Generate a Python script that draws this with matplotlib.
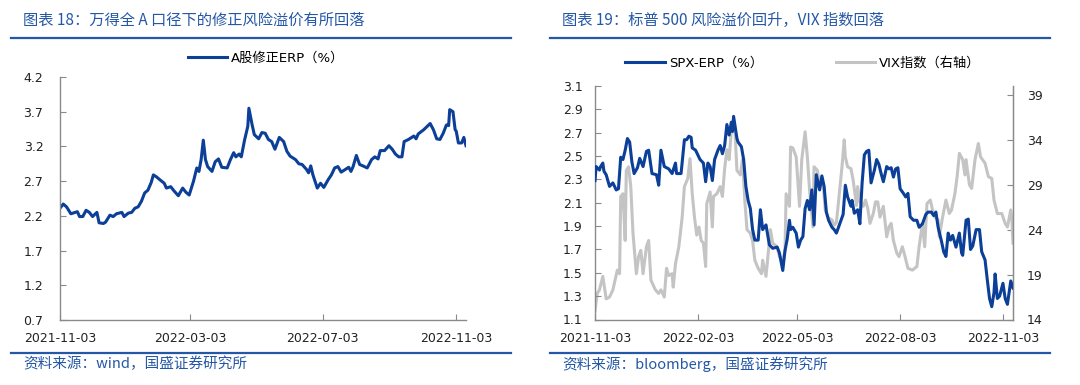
#---------------------------------Start--------------------------------

import numpy as np
import pandas as pd
import matplotlib
matplotlib.use('Agg')
import matplotlib.pyplot as plt
import matplotlib.dates as mdates
from matplotlib.lines import Line2D

plt.rcParams['font.family'] = ['DejaVu Sans', 'Noto Sans CJK SC']
plt.rcParams['axes.unicode_minus'] = False

#-------------------------------Data-----------------------------------

start_date = '2021-11-03'

# Chart 18: A-share adjusted ERP (days since start, value in %)
erp_a_days = [0, 3, 6, 10, 14, 16, 18, 21, 24, 27, 30, 34, 36, 40, 42, 46, 49, 52, 57, 59,
              63, 66, 69, 72, 75, 78, 81, 84, 86, 89, 92, 96, 98, 102, 105, 109, 113, 116, 119,
              123, 126, 128, 130, 132, 134, 136, 140, 143, 146, 149, 154, 157, 160, 162, 165,
              167, 170, 173, 174, 177, 179, 183, 186, 189, 192, 195, 198, 202, 206, 209, 212,
              217, 220, 223, 227, 229, 231, 233, 237, 240, 243, 247, 250, 253, 256, 259, 263,
              266, 268, 270, 273, 276, 279, 283, 287, 290, 293, 295, 299, 303, 306, 309, 312,
              315, 317, 321, 326, 328, 330, 335, 341, 344, 347, 350, 353, 356, 358, 359, 362,
              364, 365, 367, 370, 372, 374]
erp_a = [2.31, 2.37, 2.33, 2.23, 2.25, 2.26, 2.19, 2.19, 2.28, 2.25, 2.19, 2.25, 2.10, 2.09,
         2.11, 2.21, 2.19, 2.23, 2.25, 2.19, 2.24, 2.25, 2.31, 2.33, 2.41, 2.53, 2.57, 2.68,
         2.79, 2.76, 2.72, 2.67, 2.60, 2.62, 2.56, 2.49, 2.60, 2.54, 2.50, 2.70, 2.89, 2.84,
         3.01, 3.29, 3.01, 2.91, 2.84, 2.98, 3.02, 2.90, 2.89, 3.01, 3.11, 3.05, 3.09, 3.05,
         3.29, 3.49, 3.75, 3.51, 3.37, 3.31, 3.40, 3.39, 3.30, 3.27, 3.16, 3.33, 3.27, 3.13,
         3.06, 3.01, 2.95, 2.94, 2.87, 2.82, 2.92, 2.79, 2.60, 2.67, 2.61, 2.72, 2.79, 2.89,
         2.91, 2.83, 2.87, 2.90, 2.84, 2.91, 3.07, 2.94, 2.92, 2.89, 3.01, 3.05, 3.02, 3.14,
         3.14, 3.21, 3.16, 3.09, 3.05, 3.05, 3.27, 3.30, 3.35, 3.31, 3.38, 3.44, 3.53, 3.44,
         3.31, 3.30, 3.39, 3.51, 3.50, 3.73, 3.70, 3.44, 3.42, 3.25, 3.25, 3.33, 3.21]

# Chart 19: S&P 500 ERP (%) and VIX (right axis)
spx_days = [0, 1, 4, 5, 7, 8, 10, 13, 16, 19, 21, 23, 25, 27, 29, 31, 33, 35, 38, 40, 43,
            46, 48, 51, 55, 57, 59, 62, 66, 69, 72, 73, 77, 80, 82, 84, 86, 87, 90, 92, 94,
            97, 99, 101, 103, 105, 107, 110, 112, 114, 116, 118, 120, 122, 123, 124, 127,
            128, 131, 133, 135, 137, 139, 141, 143, 146, 148, 150, 153, 156, 159, 163, 165,
            168, 170, 172, 174, 175, 177, 180, 182, 184, 186, 188, 190, 192, 194, 196, 198,
            201, 203, 205, 207, 209, 212, 214, 216, 219, 222, 224, 226, 229, 230, 232, 235,
            237, 239, 241, 243, 245, 247, 250, 252, 254, 256, 258, 261, 263, 265, 267, 269,
            271, 273, 276, 278, 280, 282, 285, 288, 290, 293, 296, 298, 301, 303, 305, 307,
            310, 312, 314, 316, 318, 320, 323, 326, 328, 329, 332, 334, 336, 338, 341, 344,
            346, 349, 351, 353, 355, 357, 358, 360, 362, 365, 367, 369, 372, 374]
spx_erp = [2.29, 2.41, 2.38, 2.41, 2.44, 2.37, 2.34, 2.24, 2.27, 2.21, 2.22, 2.49, 2.47,
           2.55, 2.65, 2.62, 2.45, 2.35, 2.40, 2.48, 2.41, 2.54, 2.55, 2.35, 2.34, 2.25,
           2.55, 2.41, 2.39, 2.35, 2.44, 2.35, 2.35, 2.64, 2.64, 2.67, 2.66, 2.57, 2.55,
           2.51, 2.47, 2.44, 2.28, 2.44, 2.41, 2.29, 2.47, 2.55, 2.59, 2.52, 2.59, 2.77,
           2.68, 2.79, 2.71, 2.84, 2.65, 2.62, 2.58, 2.47, 2.24, 2.12, 2.05, 1.87, 1.78,
           1.78, 2.04, 1.87, 1.91, 1.74, 1.71, 1.72, 1.67, 1.52, 1.69, 1.79, 1.95, 1.87,
           1.89, 1.84, 1.72, 1.78, 1.81, 2.05, 2.12, 2.04, 2.21, 1.91, 2.34, 2.21, 2.33,
           2.24, 2.02, 1.95, 1.89, 1.87, 1.84, 1.92, 2.00, 2.25, 2.15, 2.07, 2.12, 2.01,
           2.04, 1.92, 2.27, 2.51, 2.54, 2.55, 2.27, 2.38, 2.47, 2.43, 2.35, 2.28, 2.41,
           2.39, 2.40, 2.32, 2.39, 2.40, 2.22, 2.18, 2.15, 2.18, 1.98, 1.95, 1.95, 1.89,
           1.92, 2.00, 2.02, 2.02, 1.99, 2.02, 1.89, 1.77, 1.68, 1.64, 1.84, 1.78, 1.82,
           1.72, 1.84, 1.67, 1.65, 1.95, 1.96, 1.70, 1.73, 1.87, 1.87, 1.68, 1.61, 1.44,
           1.28, 1.21, 1.33, 1.49, 1.28, 1.30, 1.41, 1.28, 1.23, 1.43, 1.37]

vix_days = [0, 2, 4, 7, 10, 13, 16, 20, 22, 23, 25, 27, 28, 30, 32, 34, 37, 39, 41, 43, 46,
            48, 50, 54, 57, 59, 62, 64, 66, 69, 70, 72, 75, 78, 80, 83, 85, 87, 89, 91, 93,
            95, 97, 99, 100, 103, 105, 106, 109, 112, 114, 116, 118, 120, 122, 124, 125, 127,
            130, 132, 134, 136, 139, 141, 143, 146, 149, 150, 153, 155, 157, 159, 163, 165,
            168, 170, 171, 174, 175, 177, 180, 181, 183, 185, 188, 190, 192, 195, 196, 199,
            201, 204, 206, 209, 212, 214, 216, 218, 221, 223, 224, 226, 229, 231, 234, 235,
            237, 240, 242, 244, 246, 249, 251, 253, 255, 258, 261, 263, 265, 267, 270, 272,
            275, 277, 280, 284, 288, 290, 293, 295, 297, 300, 302, 304, 307, 308, 311, 314,
            317, 319, 322, 324, 326, 329, 331, 332, 335, 337, 340, 343, 345, 349, 352, 355,
            357, 360, 364, 367, 369, 372, 373, 374]
vix = [15.0, 16.9, 17.3, 18.8, 16.3, 16.5, 17.3, 19.5, 19.1, 27.7, 28.0, 22.8, 30.6, 31.0,
       28.8, 23.6, 19.1, 21.0, 21.7, 19.1, 22.1, 22.8, 18.4, 17.3, 16.9, 17.3, 16.5, 19.7,
       18.9, 19.1, 17.6, 20.2, 22.1, 25.4, 28.8, 29.7, 31.9, 28.0, 25.4, 23.4, 24.3, 22.8,
       22.5, 19.9, 26.9, 28.2, 24.3, 27.7, 28.0, 28.8, 27.7, 30.8, 32.9, 31.8, 35.1, 35.7,
       35.5, 30.6, 30.1, 31.8, 27.3, 24.0, 23.6, 22.8, 20.6, 19.7, 19.1, 20.6, 18.8, 21.4,
       24.0, 22.5, 22.1, 21.0, 20.6, 21.7, 28.0, 26.6, 33.2, 33.1, 32.1, 30.3, 26.6, 31.8,
       34.9, 32.1, 28.4, 24.3, 31.0, 30.6, 28.8, 29.3, 26.2, 25.3, 25.1, 24.5, 24.8, 27.3,
       31.0, 34.0, 32.1, 31.0, 30.8, 29.5, 26.7, 28.8, 27.1, 26.6, 27.3, 26.4, 24.7, 25.8,
       27.1, 27.1, 25.4, 26.6, 23.2, 24.3, 24.7, 22.8, 21.4, 21.0, 22.1, 21.2, 19.7, 19.5,
       19.9, 22.1, 24.7, 22.1, 26.9, 27.3, 26.2, 25.4, 25.1, 23.2, 25.4, 27.3, 25.8, 26.2,
       28.0, 29.9, 32.5, 31.8, 30.1, 31.8, 29.0, 28.6, 31.8, 33.6, 32.1, 31.4, 29.9, 29.7,
       27.3, 25.8, 25.8, 24.7, 24.3, 26.2, 25.1, 22.5]

left_ticks = ['2021-11-03', '2022-03-03', '2022-07-03', '2022-11-03']
right_ticks = ['2021-11-03', '2022-02-03', '2022-05-03', '2022-08-03', '2022-11-03']

#-------------------------------Styles---------------------------------

blue = '#0b3f98'
gray = '#c4c4c4'
title_blue = '#2457a6'
axis_gray = '#8a8a8a'

def to_dates(days):
    return pd.Timestamp(start_date) + pd.to_timedelta(days, unit='D')

def style_axis(ax, right_spine=False):
    for s in ['top', 'right']:
        ax.spines[s].set_visible(False)
    if right_spine:
        ax.spines['right'].set_visible(True)
    for s in ax.spines.values():
        s.set_color(axis_gray)
        s.set_linewidth(1.0)
    ax.tick_params(direction='in', length=4, color=axis_gray, labelsize=9,
                   labelcolor='#222222')
    ax.xaxis.set_major_formatter(mdates.DateFormatter('%Y-%m-%d'))
    ax.tick_params(axis='x', pad=9)

fig = plt.figure(figsize=(10.8, 3.85), dpi=100)

#-------------------------------Left chart-----------------------------

ax1 = fig.add_axes([60/1080, 65/385, 406/1080, 243/385])
line_a, = ax1.plot(to_dates(erp_a_days), erp_a, color=blue, lw=2.2)
ax1.set_ylim(0.7, 4.2)
ax1.set_yticks(np.arange(0.7, 4.21, 0.5))
ax1.yaxis.set_major_formatter(matplotlib.ticker.FormatStrFormatter('%.1f'))
ax1.set_xlim(to_dates([0])[0], to_dates([374])[0])
ax1.set_xticks(pd.to_datetime(left_ticks))
style_axis(ax1)
ax1.tick_params(axis='y', pad=12)

fig.legend([line_a], ['A股修正ERP（%）'], loc='center', bbox_to_anchor=(266/1080, 1-58/385),
           frameon=False, fontsize=9.5, handlelength=3.0, handletextpad=0.3)

#-------------------------------Right chart----------------------------

ax2 = fig.add_axes([595/1080, 65.5/385, 418/1080, 233.5/385])
line_spx, = ax2.plot(to_dates(spx_days), spx_erp, color=blue, lw=2.2, zorder=3)
ax2.set_ylim(1.1, 3.1)
ax2.set_yticks(np.arange(1.1, 3.11, 0.2))
ax2.yaxis.set_major_formatter(matplotlib.ticker.FormatStrFormatter('%.1f'))
ax2.set_xlim(to_dates([0])[0], to_dates([374])[0])
ax2.set_xticks(pd.to_datetime(right_ticks))
style_axis(ax2, right_spine=True)
ax2.tick_params(axis='y', pad=9)

ax3 = ax2.twinx()
line_vix, = ax3.plot(to_dates(vix_days), vix, color=gray, lw=2.2)
ax3.set_ylim(14, 40)
ax3.set_yticks([14, 19, 24, 29, 34, 39])
for s in ['top', 'left', 'bottom']:
    ax3.spines[s].set_visible(False)
ax3.spines['right'].set_color(axis_gray)
ax3.tick_params(direction='in', length=4, color=axis_gray, labelsize=9,
                labelcolor='#222222', pad=10)
ax2.set_zorder(ax3.get_zorder() + 1)
ax2.patch.set_visible(False)

fig.legend([line_spx, line_vix], ['SPX-ERP（%）', 'VIX指数（右轴）'], loc='center',
           bbox_to_anchor=(803/1080, 1-63/385), ncol=2, frameon=False, fontsize=9.5,
           handlelength=3.0, handletextpad=0.3, columnspacing=5.5)

#-------------------------------Titles and rules-----------------------

for x0, x1, title, source in [(11, 511, '图表 18：万得全 A 口径下的修正风险溢价有所回落',
                               '资料来源：wind，国盛证券研究所'),
                              (550, 1050, '图表 19：标普 500 风险溢价回升，VIX 指数回落',
                               '资料来源：bloomberg，国盛证券研究所')]:
    fig.text((x0 + 12)/1080, 1-20/385, title, color=title_blue, fontsize=11, va='center',
             family=['Noto Sans CJK SC', 'DejaVu Sans'])
    fig.add_artist(Line2D([x0/1080, x1/1080], [1-38/385, 1-38/385], color=title_blue, lw=1.6))
    fig.add_artist(Line2D([x0/1080, x1/1080], [1-353/385, 1-353/385], color=title_blue, lw=1.6))
    fig.text((x0 + 12)/1080, 1-364/385, source, color=title_blue, fontsize=10.5, va='center',
             family=['Noto Sans CJK SC', 'DejaVu Sans'])

fig.savefig('out.png', dpi=100)
#------------------------------End---------------------------------------
